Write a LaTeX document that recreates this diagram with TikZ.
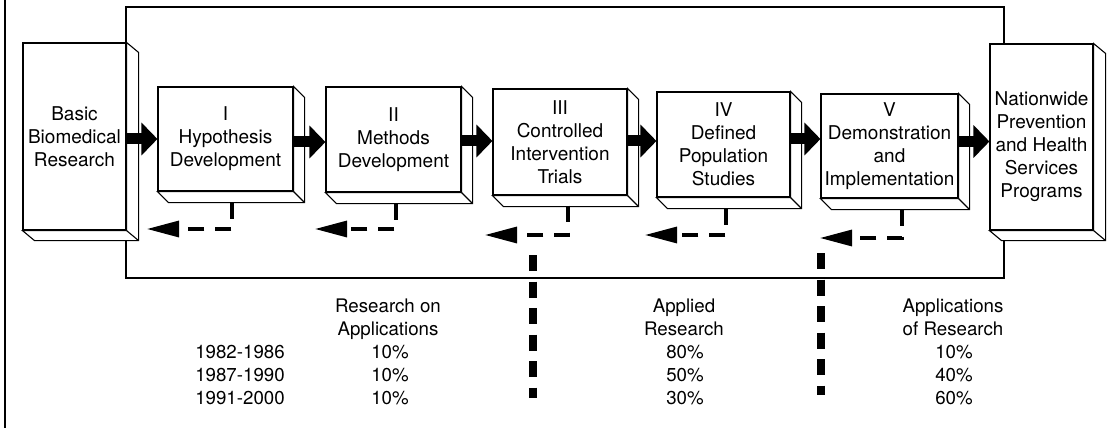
\documentclass[tikz,border=0pt]{standalone}
\usepackage{fontspec}
\setmainfont{TeX Gyre Heros}
\usetikzlibrary{arrows.meta,calc}
\newcommand\extrude[3]{%
  \draw[side] (#1.north east) -- ++(#2,#3) -- ($(#1.south east)+(#2,#3)$) -- ($(#1.south west)+(#2,#3)$) -- (#1.south west) -- (#1.south east) -- cycle;
  \draw[side] (#1.south east) -- ++(#2,#3);}
\tikzset{
  face/.style={draw, fill=white, line width=1.1pt, inner sep=0pt, align=center, font=\fontsize{19}{23}\selectfont},
  txt/.style={inner sep=0pt, align=center, font=\fontsize{19}{23}\selectfont},
  side/.style={draw, fill=white, line width=1.1pt, line join=miter},
  frame/.style={line width=1.1pt},
  blockarrow/.style={line width=11pt, -{Triangle[length=16pt,width=32pt]}},
  fb/.style={line width=3.2pt, dash pattern=on 16pt off 11pt, -{Triangle[length=32pt,width=16pt]}},
  heavy/.style={line width=8pt, dash pattern=on 16pt off 10.5pt},
  lbl/.style={anchor=base, inner sep=0pt, font=\fontsize{18.7}{23}\selectfont},
}
\begin{document}
\begin{tikzpicture}[x=1pt,y=-1pt]
\useasboundingbox (0,0) rectangle (1116,433);
% left rule and frame
\draw[line width=1.5pt] (5,0) -- (5,428);
\draw[frame] (126,7) rectangle (1004,278);
% boxes
\node[face, minimum width=103pt, minimum height=187pt] (b0) at (74.5,136.5) {Basic\\Biomedical\\Research};
\extrude{b0}{12}{10}
\node[face, minimum width=135pt, minimum height=104pt] (b1) at (225.5,139) {I\\Hypothesis\\Development};
\extrude{b1}{11}{11}
\node[face, minimum width=135pt, minimum height=105pt] (b2) at (393.5,139.5) {II\\Methods\\Development};
\extrude{b2}{11}{11}
\node[face, minimum width=134pt, minimum height=106pt] (b3) at (560,142) {III\\Controlled\\Intervention\\Trials};
\extrude{b3}{11}{11}
\node[face, minimum width=133pt, minimum height=105pt] (b4) at (723.5,144.5) {IV\\Defined\\Population\\Studies};
\extrude{b4}{11}{11}
\node[face, minimum width=137pt, minimum height=104pt] (b5) at (889.5,146) {V\\Demonstration\\and\\Implementation};
\extrude{b5}{11}{11}
\node[face, minimum width=103pt, minimum height=186pt] (b6) at (1041.5,137) {};
\extrude{b6}{12}{10}
\node[txt] (t6) at (1041.5,147) {Nationwide\\Prevention\\and Health\\Services\\Programs};
% block arrows
\draw[blockarrow] (b0.east |- 0,139) -- (b1.west |- 0,139);
\draw[blockarrow] (b1.east |- 0,142) -- (b2.west |- 0,142);
\draw[blockarrow] (b2.east |- 0,141) -- (b3.west |- 0,141);
\draw[blockarrow] (b3.east |- 0,141) -- (b4.west |- 0,141);
\draw[blockarrow] (b4.east |- 0,139) -- (b5.west |- 0,139);
\draw[blockarrow] (b5.east |- 0,141.5) -- (b6.west |- 0,141.5);
% feedback arrows
\coordinate (t1) at (147,229);
\coordinate (t2) at (315,229);
\coordinate (t3) at (485,235);
\coordinate (t4) at (645,235);
\coordinate (t5) at (820,238);
\draw[fb] ($(b1.south)+(6.5,11)$) |- (t1);
\draw[fb] ($(b2.south)+(2.5,11)$) |- (t2);
\draw[fb] ($(b3.south)+(8,10)$) |- (t3);
\draw[fb] ($(b4.south)+(2.5,11)$) |- (t4);
\draw[fb] ($(b5.south)+(12.5,11)$) |- (t5);
% heavy dividers
\coordinate (h1a) at (533,255);
\coordinate (h1b) at (533,398);
\coordinate (h2a) at (821,253);
\coordinate (h2b) at (821,395);
\draw[heavy] (h1a) -- (h1b);
\draw[heavy] (h2a) -- (h2b);
% table
\node[lbl] (y1) at (240,358) {1982-1986};
\node[lbl] (y2) at (240,381) {1987-1990};
\node[lbl] (y3) at (240,404) {1991-2000};
\node[lbl] (c1a) at (388,312) {Research on};
\node[lbl] (c1b) at (388,335) {Applications};
\node[lbl] (c1c) at (390,358) {10\%};
\node[lbl] (c1d) at (390,381) {10\%};
\node[lbl] (c1e) at (390,404) {10\%};
\node[lbl] (c2a) at (684,312) {Applied};
\node[lbl] (c2b) at (684,335) {Research};
\node[lbl] (c2c) at (685,358) {80\%};
\node[lbl] (c2d) at (685,381) {50\%};
\node[lbl] (c2e) at (685,404) {30\%};
\node[lbl] (c3a) at (953,312) {Applications};
\node[lbl] (c3b) at (953,335) {of Research};
\node[lbl] (c3c) at (954,358) {10\%};
\node[lbl] (c3d) at (954,381) {40\%};
\node[lbl] (c3e) at (954,404) {60\%};
\end{tikzpicture}
\end{document}
